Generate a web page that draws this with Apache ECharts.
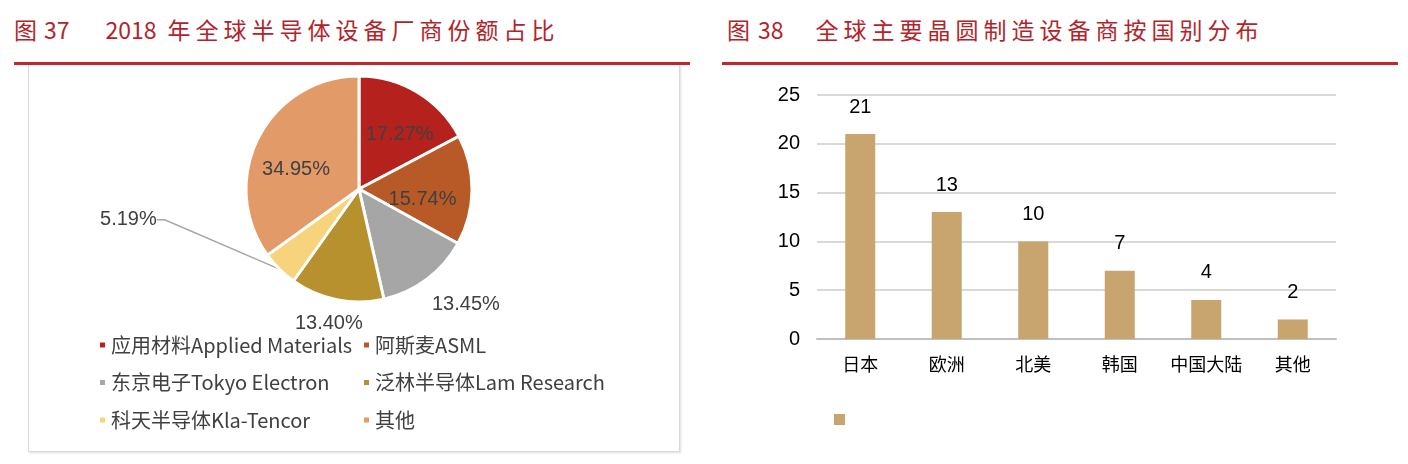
<!DOCTYPE html>
<html>
<head>
<meta charset="utf-8">
<title>半导体设备</title>
<script src="https://cdn.jsdelivr.net/npm/echarts@6/dist/echarts.min.js"></script>
<style>
html,body{margin:0;padding:0;background:#fff;}
#wrap{position:relative;width:1408px;height:464px;overflow:hidden;}
.ttl{position:absolute;top:13px;font-family:"Noto Sans CJK SC",sans-serif;font-size:23px;color:#b3242a;letter-spacing:5px;white-space:nowrap;line-height:32px;}
.ttl .n{letter-spacing:0;display:inline-block;}
.bar{position:absolute;top:62px;height:3px;background:#c0282d;}
#box{position:absolute;left:28px;top:65px;width:650px;height:386px;border:1px solid #d9d9d9;border-top:none;box-shadow:1px 1px 2px #ddd;}
#chart{position:absolute;left:0;top:0;width:1408px;height:464px;}
</style>
</head>
<body>
<div id="wrap">
  <div id="box"></div>
  <div class="ttl" style="left:14px;">图<span class="n" style="margin-left:2px">37</span><span class="n" style="margin-left:36px">2018</span><span style="margin-left:11px">年全球半导体设备厂商份额占比</span></div>
  <div class="ttl" style="left:727px;">图<span class="n" style="margin-left:3px">38</span><span style="margin-left:32px">全球主要晶圆制造设备商按国别分布</span></div>
  <div class="bar" style="left:14px;width:676px;"></div>
  <div class="bar" style="left:722px;width:676px;"></div>
  <div id="chart"></div>
</div>
<script>
// 图37 厂商份额
var vendors = ['应用材料Applied Materials','阿斯麦ASML','东京电子Tokyo Electron','泛林半导体Lam Research','科天半导体Kla-Tencor','其他'];
var shares = [17.27, 15.74, 13.45, 13.40, 5.19, 34.95];
var pieColors = ['#b5211c','#b85a27','#a6a6a6','#b8912f','#f7d47c','#e19a68'];

// 图38 国别分布
var countries = ['日本','欧洲','北美','韩国','中国大陆','其他'];
var counts = [21, 13, 10, 7, 4, 2];

// 标签位置: inside / outside, 微调
var labelPos = ['inside','inside','outside','outside','outside','inside'];
var labelShift = [[10,-4],[4,10],[-17,13],[42,9],[-99,-60],[-10,8]];

var pieData = [];
for (var i = 0; i < vendors.length; i++) {
  pieData.push({
    name: vendors[i],
    value: shares[i],
    itemStyle: {color: pieColors[i]},
    label: {position: labelPos[i]},
    labelLine: {show: i == 4}
  });
}

var textColor = '#404040';
var legendText = {fontSize: 20, color: textColor, fontFamily: '"Noto Sans CJK SC", sans-serif', lineHeight: 20};

var option = {
  animation: false,
  legend: [
    {
      orient: 'vertical', left: 93, top: 330, itemGap: 17.5,
      itemWidth: 7, itemHeight: 7, icon: 'rect',
      data: [vendors[0], vendors[2], vendors[4]],
      textStyle: legendText
    },
    {
      orient: 'vertical', left: 357, top: 330, itemGap: 17.5,
      itemWidth: 7, itemHeight: 7, icon: 'rect',
      data: [vendors[1], vendors[3], vendors[5]],
      textStyle: legendText
    },
    {
      left: 829, top: 409, itemWidth: 11, itemHeight: 11, icon: 'rect',
      data: ['数量'],
      formatter: function () { return ''; }
    }
  ],
  grid: {left: 817, right: 72, top: 95, bottom: 125},
  xAxis: {
    type: 'category',
    data: countries,
    axisTick: {show: false},
    axisLine: {lineStyle: {color: '#bfbfbf', width: 2}},
    axisLabel: {interval: 0, color: '#000', fontSize: 18, margin: 16, fontFamily: '"Noto Sans CJK SC", sans-serif'}
  },
  yAxis: {
    type: 'value',
    min: 0, max: 25, interval: 5,
    axisLine: {show: false},
    axisTick: {show: false},
    axisLabel: {color: '#000', fontSize: 20, margin: 17, fontFamily: '"Liberation Sans Narrow", "Liberation Sans", sans-serif'},
    splitLine: {lineStyle: {color: '#d9d9d9', width: 2}}
  },
  series: [
    {
      type: 'pie',
      center: [359, 189],
      radius: 113,
      startAngle: 90,
      clockwise: true,
      avoidLabelOverlap: false,
      legendHoverLink: false,
      itemStyle: {borderColor: '#fff', borderWidth: 3},
      label: {
        color: textColor,
        fontSize: 20,
        fontFamily: '"Liberation Sans Narrow", "Liberation Sans", sans-serif',
        formatter: function (p) { return p.value.toFixed(2) + '%'; }
      },
      labelLine: {length: 15, length2: 8, lineStyle: {color: '#a6a6a6', width: 1.5}},
      labelLayout: function (p) {
        var s = labelShift[p.dataIndex];
        var r = p.labelRect;
        return {
          x: r.x + r.width / 2 + s[0],
          y: r.y + r.height / 2 + s[1],
          align: 'center',
          verticalAlign: 'middle'
        };
      },
      data: pieData
    },
    {
      name: '数量',
      type: 'bar',
      data: counts,
      barWidth: 30,
      itemStyle: {color: '#c8a46e'},
      label: {
        show: true, position: 'top', distance: 17,
        color: '#000', fontSize: 20,
        fontFamily: '"Liberation Sans Narrow", "Liberation Sans", sans-serif'
      }
    }
  ]
};

var myChart = echarts.init(document.getElementById('chart'));
myChart.setOption(option);
</script>
</body>
</html>
